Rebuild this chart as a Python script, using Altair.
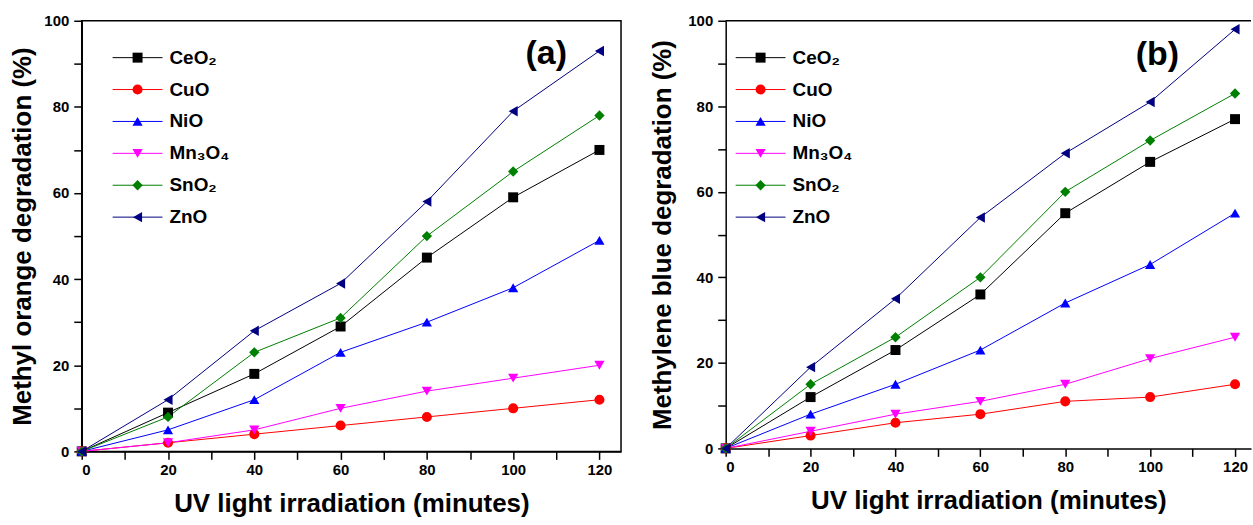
import altair as alt
import pandas as pd

# ---------------- data ----------------
minutes = [0, 20, 40, 60, 80, 100, 120]
series = ["CeO₂", "CuO", "NiO", "Mn₃O₄", "SnO₂", "ZnO"]
colors = ["#000000", "#ff0000", "#0000ff", "#ff00ff", "#008000", "#000080"]
shapes = ["square", "circle", "triangle-up", "triangle-down", "diamond", "triangle-left"]
sizes = [100, 110, 140, 140, 130, 140]

# (a) Methyl orange
mo_ceo2 = [0, 9, 18, 29, 45, 59, 70]
mo_cuo = [0, 2, 4, 6, 8, 10, 12]
mo_nio = [0, 5, 12, 23, 30, 38, 49]
mo_mn3o4 = [0, 2, 5, 10, 14, 17, 20]
mo_sno2 = [0, 8, 23, 31, 50, 65, 78]
mo_zno = [0, 12, 28, 39, 58, 79, 93]

# (b) Methylene blue
mb_ceo2 = [0, 12, 23, 36, 55, 67, 77]
mb_cuo = [0, 3, 6, 8, 11, 12, 15]
mb_nio = [0, 8, 15, 23, 34, 43, 55]
mb_mn3o4 = [0, 4, 8, 11, 15, 21, 26]
mb_sno2 = [0, 15, 26, 40, 60, 72, 83]
mb_zno = [0, 19, 35, 54, 69, 81, 98]

x_ticks = list(range(0, 130, 10))
y_ticks = list(range(0, 110, 10))

FONT = "Liberation Sans"


def long_df(value_lists):
    rows = []
    for name, vals in zip(series, value_lists):
        for m, v in zip(minutes, vals):
            rows.append({"minutes": m, "value": v, "series": name})
    return pd.DataFrame(rows)


df_a = long_df([mo_ceo2, mo_cuo, mo_nio, mo_mn3o4, mo_sno2, mo_zno])
df_b = long_df([mb_ceo2, mb_cuo, mb_nio, mb_mn3o4, mb_sno2, mb_zno])
legend_df = pd.DataFrame({"series": series, "row": list(range(len(series)))})

color_scale = alt.Scale(domain=series, range=colors)
shape_scale = alt.Scale(domain=series, range=shapes)
size_scale = alt.Scale(domain=series, range=sizes)

label_expr = "datum.value % 20 == 0 ? datum.label : ''"


def panel(df, ytitle, width, height, xmax, tag, tag_x, tag_y, leg_x0,
          framed, ytitle_pad):
    x_enc = alt.X(
        "minutes:Q",
        scale=alt.Scale(domain=[0, xmax], nice=False, zero=True),
        axis=alt.Axis(values=x_ticks, labelExpr=label_expr,
                      title="UV light irradiation (minutes)",
                      labelPadding=3, titlePadding=13),
    )
    y_enc = alt.Y(
        "value:Q",
        scale=alt.Scale(domain=[0, 100], nice=False),
        axis=alt.Axis(values=y_ticks, labelExpr=label_expr, title=ytitle,
                      labelPadding=5, titlePadding=ytitle_pad),
    )
    base = alt.Chart(df)
    lines = base.mark_line(strokeWidth=1).encode(
        x=x_enc, y=y_enc,
        color=alt.Color("series:N", scale=color_scale, legend=None),
        detail="series:N",
    )
    pts = base.mark_point(filled=True, opacity=1).encode(
        x=x_enc, y=y_enc,
        color=alt.Color("series:N", scale=color_scale, legend=None),
        shape=alt.Shape("series:N", scale=shape_scale, legend=None),
        size=alt.Size("series:N", scale=size_scale, legend=None),
    )
    main = alt.layer(lines, pts)

    ly = alt.Y("row:Q", scale=alt.Scale(domain=[0, 5], range=[37, 197]), axis=None)
    lbase = alt.Chart(legend_df)
    leg_line = lbase.mark_rule(strokeWidth=1).encode(
        x=alt.value(leg_x0), x2=alt.value(leg_x0 + 50), y=ly,
        color=alt.Color("series:N", scale=color_scale, legend=None),
    )
    leg_pt = lbase.mark_point(filled=True, opacity=1).encode(
        x=alt.value(leg_x0 + 25), y=ly,
        color=alt.Color("series:N", scale=color_scale, legend=None),
        shape=alt.Shape("series:N", scale=shape_scale, legend=None),
        size=alt.Size("series:N", scale=size_scale, legend=None),
    )
    leg_txt = lbase.mark_text(
        align="left", baseline="middle", font=FONT, fontSize=19,
        fontWeight="bold", color="black",
    ).encode(x=alt.value(leg_x0 + 57), y=ly, text="series:N")
    legend = alt.layer(leg_line, leg_pt, leg_txt)

    tag_txt = alt.Chart(pd.DataFrame({"t": [tag]})).mark_text(
        align="center", baseline="middle", font=FONT, fontSize=34,
        fontWeight="bold", color="black",
    ).encode(x=alt.value(tag_x), y=alt.value(tag_y), text="t:N")

    layers = [main, legend, tag_txt]
    if not framed:
        top_rule = alt.Chart(pd.DataFrame({"t": [0]})).mark_rule(
            color="black", strokeWidth=1.5
        ).encode(x=alt.value(0), x2=alt.value(width), y=alt.value(0))
        layers.append(top_rule)

    ch = alt.layer(*layers).resolve_scale(y="independent").properties(
        width=width, height=height
    )
    if not framed:
        ch = ch.properties(view=alt.ViewBackground(stroke="transparent"))
    return ch


pa = panel(df_a, "Methyl orange degradation (%)", 541, 432, 125.0,
           "(a)", 466, 33, 31, True, 8)
pb = panel(df_b, "Methylene blue degradation (%)", 527, 429, 123.76,
           "(b)", 433, 34, 10, False, 12)

chart = alt.hconcat(pa, pb, spacing=27).properties(
    padding={"left": 9, "top": 12, "right": 0, "bottom": 0},
    background="white",
).configure_view(
    stroke="black", strokeWidth=1.5
).configure_axis(
    labelFont=FONT, labelFontWeight="bold", labelFontSize=15, labelColor="black",
    titleFont=FONT, titleFontWeight="bold", titleFontSize=26, titleColor="black",
    domainColor="black", domainWidth=1.5, tickColor="black", tickWidth=1.5,
    tickSize=8, grid=False,
)

chart.save("out.html", embed_options={"renderer": "svg", "actions": False})
